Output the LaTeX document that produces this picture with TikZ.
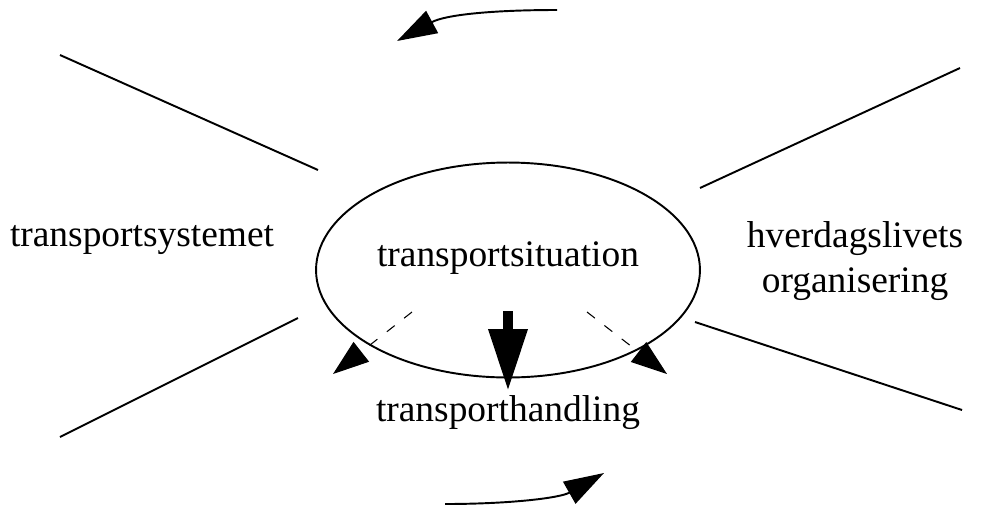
\documentclass[tikz,border=0pt]{standalone}
\usepackage{fontspec}
\setmainfont{Liberation Serif}
\usetikzlibrary{arrows.meta,shapes.geometric}
\begin{document}
\begin{tikzpicture}[x=0.02cm,y=-0.02cm,
  lbl/.style={font=\fontsize{21.3}{25.5}\selectfont, inner sep=0pt, align=center},
  ray/.style={line width=1.1pt},
  bigtip/.style={-{Triangle[length=0.8cm,width=0.5cm]}},
  dashtip/.style={-{Triangle[length=0.72cm,width=0.5cm]}, line width=0.6pt, dash pattern=on 0.2cm off 0.24cm},
  ]
\useasboundingbox (0,0) rectangle (981,508);
\node[draw, ellipse, line width=1.1pt, minimum width=7.68cm, minimum height=4.3cm, inner sep=0pt] (sit) at (508,270) {};
\node[lbl] (sittxt) at (508,258) {transportsituation};
\node[lbl] (sys) at (142,240) {transportsystemet};
\node[lbl] (hv) at (855,261) {hverdagslivets\\organisering};
\node[lbl] (hand) at (508,413) {transporthandling};
% rays
\coordinate (a1) at (60,55); \coordinate (a2) at (318,170);
\coordinate (b1) at (960,68); \coordinate (b2) at (700,188);
\coordinate (c1) at (298,318); \coordinate (c2) at (60,437);
\coordinate (d1) at (695,322); \coordinate (d2) at (962,410);
\draw[ray] (a1) -- (a2);
\draw[ray] (b1) -- (b2);
\draw[ray] (c1) -- (c2);
\draw[ray] (d1) -- (d2);
% curved arrows
\coordinate (t1) at (557,10); \coordinate (t2) at (397,41);
\coordinate (u1) at (445,504); \coordinate (u2) at (604,473);
\draw[ray, bigtip] (t1) .. controls (490,10) and (445,15) .. (t2);
\draw[ray, bigtip] (u1) .. controls (510,504) and (560,498) .. (u2);
% dashed arrows
\coordinate (l1) at (412,312); \coordinate (l2) at (333,374);
\coordinate (r1) at (587,312); \coordinate (r2) at (667,374);
\draw[dashtip] (l1) -- (l2);
\draw[dashtip] (r1) -- (r2);
% centre arrow
\coordinate (m1) at (508,311); \coordinate (m2) at (508,391);
\draw[line width=0.2cm, -{Triangle[length=1.24cm,width=0.74cm]}] (m1) -- (m2);
\end{tikzpicture}
\end{document}
